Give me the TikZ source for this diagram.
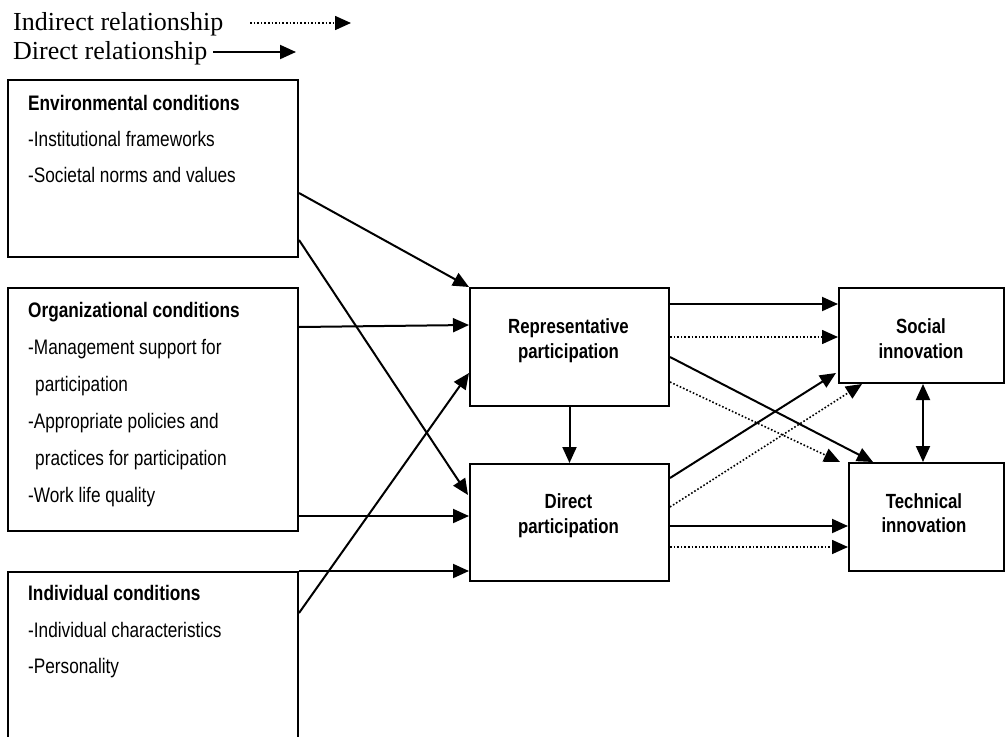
\documentclass[tikz,border=0pt]{standalone}
\usepackage{fontspec}
\newfontfamily\narrowsans[FakeStretch=0.82]{Liberation Sans}
\newfontfamily\legendfont{Liberation Serif}
\usetikzlibrary{arrows.meta,calc}
\begin{document}
\begin{tikzpicture}[x=1pt,y=-1pt,
  box/.style={draw,line width=2pt,inner sep=0pt,anchor=north west},
  arr/.style={line width=2pt,-{Triangle[length=16pt,width=14pt]}},
  dotarr/.style={line width=1.6pt,dash pattern=on 1.6pt off 2pt,-{Triangle[length=16pt,width=14pt]}},
  legtxt/.style={inner sep=0pt,anchor=base west,font=\legendfont\fontsize{26}{30}\selectfont},
  lhead/.style={inner sep=0pt,anchor=base west,font=\narrowsans\bfseries\fontsize{21}{25}\selectfont},
  ltxt/.style={inner sep=0pt,anchor=base west,font=\narrowsans\fontsize{21}{25}\selectfont},
  mtxt/.style={inner sep=0pt,anchor=base,font=\narrowsans\bfseries\fontsize{20.5}{25}\selectfont}]
\useasboundingbox (0,0) rectangle (1005,737);

% legend
\node[legtxt] (lgind) at (13,30) {Indirect relationship};
\node[legtxt] (lgdir) at (13,59) {Direct relationship};
\coordinate (li1) at (250,23);
\coordinate (li2) at (351,23);
\coordinate (ld1) at (213,52);
\coordinate (ld2) at (296,52);
\draw[dotarr] (li1) -- (li2);
\draw[arr] (ld1) -- (ld2);

% left boxes
\node[box,minimum width=290pt,minimum height=177pt] (env) at (7,79) {};
\node[box,minimum width=290pt,minimum height=243pt] (org) at (7,287) {};
\node[box,minimum width=290pt,minimum height=200pt] (ind) at (7,571) {};

\node[lhead] (envt) at (28,110) {Environmental conditions};
\node[ltxt] (env1) at (28,146) {-Institutional frameworks};
\node[ltxt] (env2) at (28,182) {-Societal norms and values};

\node[lhead] (orgt) at (28,317) {Organizational conditions};
\node[ltxt] (org1) at (28,354) {-Management support for};
\node[ltxt] (org2) at (35,391) {participation};
\node[ltxt] (org3) at (28,428) {-Appropriate policies and};
\node[ltxt] (org4) at (35,465) {practices for participation};
\node[ltxt] (org5) at (28,502) {-Work life quality};

\node[lhead] (indt) at (28,600) {Individual conditions};
\node[ltxt] (ind1) at (28,637) {-Individual characteristics};
\node[ltxt] (ind2) at (28,673) {-Personality};

% middle boxes
\node[box,minimum width=199pt,minimum height=118pt] (rep) at (469,287) {};
\node[box,minimum width=199pt,minimum height=117pt] (dir) at (469,463) {};
\node[mtxt] (rept1) at (568.5,333) {Representative};
\node[mtxt] (rept2) at (568.5,358) {participation};
\node[mtxt] (dirt1) at (568.5,508) {Direct};
\node[mtxt] (dirt2) at (568.5,533) {participation};

% right boxes
\node[box,minimum width=165pt,minimum height=95pt] (soc) at (838,287) {};
\node[box,minimum width=155pt,minimum height=108pt] (tech) at (848,462) {};
\node[mtxt] (soct1) at (921,333) {Social};
\node[mtxt] (soct2) at (921,358) {innovation};
\node[mtxt] (techt1) at (924,508) {Technical};
\node[mtxt] (techt2) at (924,532) {innovation};

% left to middle
\draw[arr] ($(env.north east)+(0,114)$) -- (rep.north west);
\draw[arr] ($(env.north east)+(0,161)$) -- ($(dir.north west)+(-1,32)$);
\draw[arr] ($(org.north east)+(0,40)$) -- ($(rep.north west)+(0,38)$);
\draw[arr] ($(org.north east)+(0,229)$) -- ($(dir.north west)+(0,53)$);
\draw[arr] (ind.north east) -- ($(dir.north west)+(0,108)$);
\draw[arr] ($(ind.north east)+(0,42)$) -- ($(rep.north west)+(0,86)$);

% middle
\draw[arr] (rep.south) -- (dir.north);

% middle to right
\draw[arr] ($(rep.north east)+(0,17)$) -- ($(soc.north west)+(0,17)$);
\draw[dotarr] ($(rep.north east)+(0,50)$) -- ($(soc.north west)+(0,50)$);
\draw[arr] ($(rep.north east)+(0,70)$) -- ($(tech.north west)+(25,0)$);
\draw[dotarr] ($(rep.north east)+(0,95)$) -- ($(tech.north west)+(-8,0)$);
\draw[arr] ($(dir.north east)+(0,15)$) -- ($(soc.south west)+(-2,-11)$);
\draw[dotarr] ($(dir.north east)+(0,44)$) -- ($(soc.south west)+(24,0)$);
\draw[arr] ($(dir.north east)+(0,63)$) -- ($(tech.north west)+(0,64)$);
\draw[dotarr] ($(dir.north east)+(0,84)$) -- ($(tech.north west)+(0,85)$);

% social <-> technical
\coordinate (sb) at ($(soc.south west)+(85,0)$);
\draw[line width=2pt,{Triangle[length=16pt,width=14pt]}-{Triangle[length=16pt,width=14pt]}] (sb) -- (sb |- tech.north);
\end{tikzpicture}
\end{document}
